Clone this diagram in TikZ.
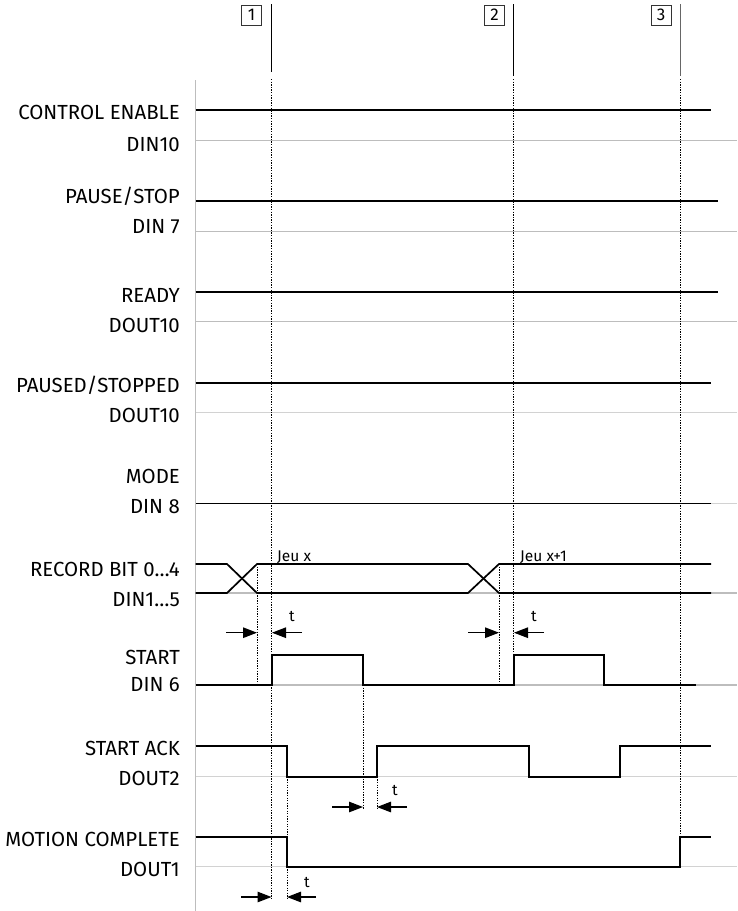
\documentclass[tikz,border=0pt]{standalone}
\usepackage{fontspec}
\setmainfont{Fira Sans}
\usetikzlibrary{arrows.meta}
\definecolor{gbase}{HTML}{BDBDBD}
\definecolor{glight}{HTML}{D2D2D2}
\definecolor{gaxis}{HTML}{BDBDBD}
\begin{document}
\begin{tikzpicture}[x=1pt,y=-1pt,
  sig/.style={line width=1.7pt, line join=miter, line cap=butt},
  baseln/.style={line width=1.5pt, draw=gbase},
  baselt/.style={line width=1.5pt, draw=glight},
  dotline/.style={line width=0.8pt, dash pattern=on 1.3pt off 1.3pt},
  lbl/.style={anchor=base east, inner sep=0pt, font=\fontsize{20.4}{23}\selectfont},
  small/.style={anchor=base west, inner sep=0pt, font=\fontsize{15.5}{17}\selectfont},
  tlbl/.style={anchor=base, inner sep=0pt, font=\fontsize{15.5}{17}\selectfont},
  tarrow/.style={-{Triangle[length=14pt,width=10.5pt]}, line width=1.2pt},
  numbox/.style={draw=black!80, line width=0.9pt, minimum width=20pt, minimum height=20pt, inner sep=0pt, font=\fontsize{17}{19}\selectfont},
]
\useasboundingbox (0,0) rectangle (737,911);

% axis
\draw[gaxis, line width=1.6pt] (195.5,80) -- (195.5,911);

% gray baselines
\draw[baseln] (195.5,140.7) -- (737,140.7);
\draw[baseln] (195.5,231.7) -- (737,231.7);
\draw[baseln] (195.5,321.7) -- (737,321.7);
\draw[baselt] (195.5,412.7) -- (737,412.7);
\draw[baselt] (195.5,503.5) -- (737,503.5);
\draw[baseln] (195.5,593) -- (737,593);
\draw[baseln] (195.5,685) -- (737,685);
\draw[baselt] (195.5,776.7) -- (737,776.7);
\draw[baselt] (195.5,866.7) -- (737,866.7);

% marker lines
\draw[line width=1pt] (271.5,4) -- (271.5,72);
\draw[line width=1pt] (513.3,4) -- (513.3,76);
\draw[line width=1pt, black!60] (680,4) -- (680,76);
\node[numbox] (n1) at (251.5,15) {1};
\node[numbox] (n2) at (494.5,15) {2};
\node[numbox] (n3) at (661,15) {3};

% dotted guide lines
\draw[dotline] (271.5,79) -- (271.5,900);
\draw[dotline] (513.3,79) -- (513.3,655);
\draw[dotline] (680,79) -- (680,836.7);
\draw[dotline] (257,564) -- (257,685);
\draw[dotline] (499,564) -- (499,685);
\draw[dotline] (363,685) -- (363,809);
\draw[dotline] (377,776.7) -- (377,809);
\draw[dotline] (287,776.7) -- (287,836.7);
\draw[dotline] (287,866.7) -- (287,900);

% signals
\draw[sig] (195.5,110) -- (711,110);
\draw[sig] (195.5,201) -- (718,201);
\draw[sig] (195.5,291.7) -- (718,291.7);
\draw[sig] (195.5,382.7) -- (711,382.7);
\draw[sig] (195.5,503.5) -- (711,503.5);
\draw[sig] (195.5,564) -- (227,564) -- (257,593) -- (468,593) -- (499,564) -- (711,564);
\draw[sig] (195.5,593) -- (227,593) -- (257,564) -- (468,564) -- (499,593) -- (711,593);
\draw[sig] (195.5,685) -- (272,685) -- (272,655) -- (363,655) -- (363,685) -- (514,685) -- (514,655) -- (604,655) -- (604,685) -- (696,685);
\draw[sig] (195.5,745.7) -- (287,745.7) -- (287,776.7) -- (377,776.7) -- (377,745.7) -- (529,745.7) -- (529,776.7) -- (620,776.7) -- (620,745.7) -- (710.5,745.7);
\draw[sig] (195.5,836.7) -- (287,836.7) -- (287,866.7) -- (680,866.7) -- (680,836.7) -- (710.5,836.7);

% labels
\node[lbl] (l1a) at (180,119.7) {CONTROL ENABLE};
\node[lbl] (l1b) at (180,151) {DIN10};
\node[lbl] (l2a) at (180,203.7) {PAUSE/STOP};
\node[lbl] (l2b) at (180,233.7) {DIN 7};
\node[lbl] (l3a) at (180,302) {READY};
\node[lbl] (l3b) at (180,332) {DOUT10};
\node[lbl] (l4a) at (180,392) {PAUSED/STOPPED};
\node[lbl] (l4b) at (180,422) {DOUT10};
\node[lbl] (l5a) at (180,483.7) {MODE};
\node[lbl] (l5b) at (180,513.7) {DIN 8};
\node[lbl] (l6a) at (180,576) {RECORD BIT 0…4};
\node[lbl] (l6b) at (180,606) {DIN1…5};
\node[lbl] (l7a) at (180,664) {START};
\node[lbl] (l7b) at (180,691) {DIN 6};
\node[lbl] (l8a) at (180,755.3) {START ACK};
\node[lbl] (l8b) at (180,785.3) {DOUT2};
\node[lbl] (l9a) at (180,846) {MOTION COMPLETE};
\node[lbl] (l9b) at (180,876) {DOUT1};

\node[small] (j1) at (277,561) {Jeu x};
\node[small] (j2) at (520,561) {Jeu x+1};

% t arrows
\coordinate (a1s) at (226,632.7); \coordinate (a1e) at (257,632.7);
\coordinate (a2s) at (302,632.7); \coordinate (a2e) at (272,632.7);
\draw[tarrow] (a1s) -- (a1e);
\draw[tarrow] (a2s) -- (a2e);
\node[tlbl] (t1) at (292,621) {t};

\coordinate (b1s) at (468,632.7); \coordinate (b1e) at (499,632.7);
\coordinate (b2s) at (544,632.7); \coordinate (b2e) at (514,632.7);
\draw[tarrow] (b1s) -- (b1e);
\draw[tarrow] (b2s) -- (b2e);
\node[tlbl] (t2) at (534,621) {t};

\coordinate (c1s) at (332,807); \coordinate (c1e) at (363,807);
\coordinate (c2s) at (407,807); \coordinate (c2e) at (377,807);
\draw[tarrow] (c1s) -- (c1e);
\draw[tarrow] (c2s) -- (c2e);
\node[tlbl] (t3) at (395,795.5) {t};

\coordinate (d1s) at (241,897); \coordinate (d1e) at (271.5,897);
\coordinate (d2s) at (316,897); \coordinate (d2e) at (287,897);
\draw[tarrow] (d1s) -- (d1e);
\draw[tarrow] (d2s) -- (d2e);
\node[tlbl] (t4) at (307,887.5) {t};
\end{tikzpicture}
\end{document}
